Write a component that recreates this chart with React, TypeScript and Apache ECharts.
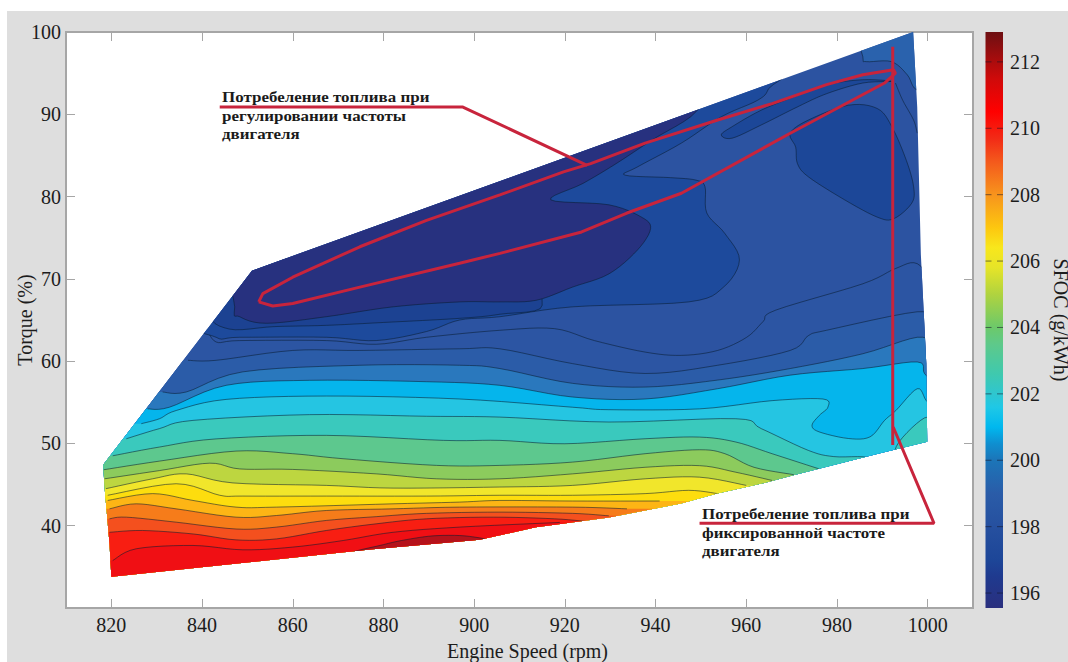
import React, { useEffect, useRef } from "react";
import * as echarts from "echarts";

type P = [number, number];

const xTicks = [820, 840, 860, 880, 900, 920, 940, 960, 980, 1000];
const yTicks = [40, 50, 60, 70, 80, 90, 100];
const barTicks = [196, 198, 200, 202, 204, 206, 208, 210, 212];
const barMin = 195.55;
const barMax = 212.9;
const barStops: [number, string][] = [
  [195.55, "#2a2f7e"], [196.5, "#1f3a8f"], [197, "#1d4698"], [198, "#26509f"], [199, "#2a5ca8"],
  [200, "#1c75b8"], [200.5, "#0f8fd0"], [201, "#00b8ef"], [201.6, "#1fc8e6"], [202, "#2fc6cf"],
  [202.6, "#3fc9ae"], [203.5, "#5ec98a"], [204, "#6cc96a"], [205, "#b0d33f"], [205.8, "#e6e428"],
  [206.4, "#f8e71c"], [207, "#fdc70f"], [208, "#f7941d"], [209, "#f4591c"], [209.7, "#f22a16"],
  [210.5, "#ff0000"], [211.5, "#cf0a0a"], [212.9, "#6d0f12"],
];

const hull: P[] = [
  [818.2, 47.4], [851, 71], [996.8, 100], [997.7, 90.9], [998.5, 73], [999.7, 59.7], [999.9, 50.2], [989.5, 48.8], [970.8, 46.2],
  [964.8, 45.3], [953.6, 43.9], [945.6, 42.7], [929.7, 41], [913.6, 39.8], [901.2, 38.3], [877, 37.1],
  [820, 33.8], [819.6, 37.8], [818.5, 44.7],
];

const L16: P[] = [[841, 64], [843.1, 62.33], [848.3, 62.5], [867.4, 62.5], [878.4, 62.05], [889.5, 62.9], [905.67, 63.75], [917.7, 63.95], [926.5, 62.5], [937.7, 61.1], [945.7, 60.7], [953.7, 61.3], [960.1, 62.9], [963.7, 64.8], [966.5, 66.2], [985.7, 69.4], [992.9, 71.25], [997.7, 71.85], [1002, 69]];
const L15: P[] = [[836.9, 60.1], [843.1, 60.1], [860, 61.3], [874.8, 61.3], [896.8, 61.5], [905.67, 61.5], [921.7, 59.7], [937.7, 58.5], [953.7, 59.5], [969.7, 61.3], [973.7, 63.1], [977.7, 63.75], [997.7, 66], [1002, 65]];
const L14: P[] = [[831.3, 56.25], [836.5, 56.25], [849, 58.7], [874.8, 59.5], [896.8, 59.5], [905.67, 59.1], [921.7, 57.3], [937.7, 56.85], [953.7, 57.7], [969.7, 59.1], [985.7, 60.9], [997.7, 62.9], [1002, 62]];
const L13: P[] = [[828, 54.2], [832.8, 54.4], [845.3, 57.06], [863.7, 57.67], [889.5, 57.5], [905.67, 57.06], [921.7, 55.64], [937.7, 55.4], [953.7, 56.65], [969.7, 58.3], [985.7, 59.1], [997.7, 59.9], [999.3, 58.5], [1002, 57]];
const L12: P[] = [[826.6, 52.4], [830.6, 53], [834.3, 54], [845.3, 55.35], [867.4, 55.76], [896.8, 55.4], [921.7, 54.4], [929.7, 54.1], [949.7, 54.2], [965.7, 55.2], [976.9, 55.4], [978, 54.4], [976.1, 53.4], [974.5, 52.2], [976.1, 51.4], [982.5, 50.6], [987.3, 50.8], [990.5, 52.8], [993, 54], [997.7, 56.65], [999.7, 55.2], [1002, 54]];
const L11: P[] = [[823.3, 50.57], [830.6, 51.8], [838, 52.8], [863.7, 53.5], [889.5, 53.3], [905.67, 53.2], [929.7, 52.6], [957.7, 53], [963.3, 51.8], [973.7, 49.15], [979.3, 48.4], [986.9, 48.3], [991, 47], [993.7, 50.2], [999.3, 53.1], [1002, 52.5]];
const L10: P[] = [[820.3, 48.5], [830.6, 49.56], [843.1, 50.55], [867.4, 50.98], [893.2, 50.37], [905.67, 50.37], [920, 49.96], [937.7, 50.57], [949.7, 50.77], [957.7, 50.17], [965.7, 48.75], [976.1, 46.9]];
const L9: P[] = [[818.3, 46.8], [830.6, 47.85], [847.5, 49.07], [860, 48.75], [871.1, 48.14], [891.7, 47.33], [905.67, 47.33], [921.7, 47.73], [937.7, 48.75], [949.7, 49.23], [955.3, 48.75], [961.7, 47.1], [970.5, 46.2]];
const L8: P[] = [[818.5, 45.7], [830.6, 46.7], [841.7, 47.6], [848.3, 46.9], [860, 46.84], [878.4, 46.3], [891.7, 45.7], [905.67, 45.7], [921.7, 46.3], [937.7, 47.1], [949.7, 47.3], [957.7, 46.5], [965.7, 45.5]];
const L7: P[] = [[818.8, 44.5], [829.1, 45.7], [836.5, 46.3], [846.8, 45.2], [867.4, 44.9], [882.1, 44.57], [905.67, 44.7], [921.7, 44.9], [937.7, 45.7], [949.7, 45.9], [960, 44.9]];
const L6: P[] = [[819.2, 43.7], [834.3, 45.1], [843.9, 43.7], [849, 43.6], [867.4, 43.6], [889.5, 43.6], [905.67, 43.7], [921.7, 43.7], [937.7, 43.9], [947.3, 44.3], [953.7, 43.9]];
const L5: P[] = [[819.2, 43.07], [829.1, 43.9], [838, 43.07], [847.5, 42.26], [856.4, 42.26], [882.1, 42.66], [896.8, 42.87], [905.67, 43.07], [921.7, 43], [940.9, 43]];
const L4: P[] = [[819.6, 42.05], [825.5, 42.66], [834.3, 42.05], [847.5, 41.04], [856.4, 41.24], [867.4, 41.85], [882.1, 42.05], [896.8, 42.26], [921.7, 42.26], [933.7, 42.05]];
const L3: P[] = [[819.6, 40.84], [823.3, 41.04], [834.3, 40.43], [847.5, 39.6], [856.4, 39.83], [867.4, 40.64], [878.4, 41.1], [889.5, 41.5], [905.67, 41.65], [921.7, 41.5], [929.7, 41.2]];
const L2: P[] = [[819.6, 39.2], [826.9, 39.42], [838, 39], [847.5, 38.28], [856.4, 38.4], [867.4, 39.42], [878.4, 40.23], [889.5, 40.84], [904.2, 41.04], [917.7, 40.84], [925, 40.5]];
const L1: P[] = [[820.3, 35.77], [825.5, 37.2], [838, 37.6], [849, 37.07], [860, 37.4], [871.1, 38.2], [882.1, 39.2], [896.8, 39.83], [918.9, 40.4]];

const darkRed: P[] = [[873, 36.5], [880, 37.7], [886, 38.4], [892, 38.8], [899, 38.7], [903, 37.9], [890, 36]];
const blobMid: P[] = [[842, 66], [846, 63.9], [856, 64.2], [867.4, 64.35], [880, 64.7], [896.8, 65.2], [905.67, 65.7], [915, 66.8], [905, 72], [850, 72]];
const blob2: P[] = [[838, 66], [843.1, 62.9], [848.3, 62.9], [867.4, 62.9], [878.4, 62.5], [889.5, 63.6], [896.8, 65], [905.67, 65.4], [921.7, 66.6], [947.3, 67.2], [955, 69], [958.5, 72.3], [955.3, 75.5], [951.3, 78], [950.9, 81.2], [948.9, 82], [943.3, 82.3], [933.3, 82.6], [936, 83.6], [945.7, 86.5], [954.5, 89.7], [962.5, 91.7], [964.9, 93.1], [966, 96], [900, 90], [850, 80]];
const blob1: P[] = [[847.2, 66.6], [848.3, 65.4], [854.2, 64.6], [867.4, 65.4], [882.1, 66.6], [896.8, 67.2], [905.67, 67.2], [913.7, 67.4], [921.7, 69], [929.7, 70.6], [936, 73.5], [938.9, 76.1], [936.9, 77.5], [929.7, 79], [916.9, 79.6], [924, 81.6], [931.3, 84], [939.3, 86.9], [948.9, 90.3], [950, 94], [900, 88], [850, 76]];
const blobRight: P[] = [[969.7, 87.7], [973.7, 89.3], [982.5, 91.1], [988.9, 90.7], [992.1, 88.5], [995.3, 84.4], [996.9, 81.2], [996.5, 79.2], [992.5, 77.3], [988.9, 77.5], [981.7, 79.6], [973.7, 82.4], [971.3, 84], [970.9, 86]];
const sliver: P[] = [[954.5, 87.5], [956.9, 87.1], [963.3, 88.7], [971.3, 90.9], [977.7, 92.5], [985.7, 93.8], [992, 94], [985.7, 94.2], [977.7, 93.6], [971.3, 92.3], [963.3, 90.5], [956.9, 88.5]];
const corner: P[] = [[985.7, 97], [986.5, 96.4], [992, 96.4], [995.5, 94.8], [997.5, 93], [1002, 93], [1002, 102], [985, 102]];
const ringLine: P[] = [[992.9, 93.8], [994.5, 91.7], [996.9, 89.3], [997.7, 87.7]];

const loopLine: P[] = [[852.5, 67.2], [853.4, 68.2], [860, 70.2], [874.8, 73.9], [889.5, 77.1], [905.67, 80.2], [919.7, 83], [925.7, 84], [937.7, 86.5], [953.7, 89.3], [965.7, 91.3], [977.7, 93.6], [985.7, 94.8], [992.5, 95.4], [992.9, 95], [990.5, 93.8], [969.7, 87.7], [945.7, 80.4], [933.7, 78], [923.7, 75.7], [905.7, 73.1], [896.8, 71.9], [874.8, 69], [860, 67], [855.6, 66.7], [852.5, 67.2]];
const fixedLine: P[] = [[992.3, 98.2], [992.3, 49.8]];
const leader1: P[] = [[843.9, 90.9], [897.4, 90.9], [924.9, 83.8]];
const leader2: P[] = [[949.7, 40.3], [1001.4, 40.3], [992.4, 52]];

const note1 = "Потребеление топлива при\nрегулировании частоты\nдвигателя";
const note2 = "Потребеление топлива при\nфиксированной частоте\nдвигателя";

type Band = { pts: P[]; fill: string; kind: "below" | "blob" | "stroke" };
const bands: Band[] = [
  { pts: L16, fill: "#2c55a3", kind: "below" },
  { pts: L15, fill: "#2b5ca8", kind: "below" },
  { pts: L14, fill: "#2a78bd", kind: "below" },
  { pts: L13, fill: "#05b5ec", kind: "below" },
  { pts: L12, fill: "#25c5e2", kind: "below" },
  { pts: L11, fill: "#3ac9bd", kind: "below" },
  { pts: L10, fill: "#5dc88e", kind: "below" },
  { pts: L9, fill: "#8ccb5d", kind: "below" },
  { pts: L8, fill: "#bdd640", kind: "below" },
  { pts: L7, fill: "#f1e62b", kind: "below" },
  { pts: L6, fill: "#fddd0e", kind: "below" },
  { pts: L5, fill: "#fdb515", kind: "below" },
  { pts: L4, fill: "#f67c1a", kind: "below" },
  { pts: L3, fill: "#f4501e", kind: "below" },
  { pts: L2, fill: "#f81e12", kind: "below" },
  { pts: L1, fill: "#f00f14", kind: "below" },
  { pts: darkRed, fill: "#b5121b", kind: "blob" },
  { pts: corner, fill: "#2a62ad", kind: "blob" },
  { pts: blob2, fill: "#1d4a9c", kind: "blob" },
  { pts: blobMid, fill: "#1c4292", kind: "blob" },
  { pts: blob1, fill: "#27317f", kind: "blob" },
  { pts: blobRight, fill: "#1c4798", kind: "blob" },
  { pts: sliver, fill: "#1c4798", kind: "blob" },
  { pts: ringLine, fill: "none", kind: "stroke" },
];

const contourStroke = "rgba(10,30,50,0.55)";
const red = "#c8243c";
const frame = "#a6a6a6";
const serif = "'Liberation Serif', serif";

function spline(pts: number[][], closed: boolean): number[][] {
  const out: number[][] = [];
  const n = pts.length;
  const at = (i: number) => (closed ? pts[(i + n) % n] : pts[Math.max(0, Math.min(n - 1, i))]);
  const segs = closed ? n : n - 1;
  for (let i = 0; i < segs; i++) {
    const [p0, p1, p2, p3] = [at(i - 1), at(i), at(i + 1), at(i + 2)];
    for (let k = 0; k < 6; k++) {
      const t = k / 6;
      const t2 = t * t;
      const t3 = t2 * t;
      out.push([0, 1].map((d) =>
        0.5 * (2 * p1[d] + (p2[d] - p0[d]) * t + (2 * p0[d] - 5 * p1[d] + 4 * p2[d] - p3[d]) * t2 + (3 * p1[d] - p0[d] - 3 * p2[d] + p3[d]) * t3)
      ));
    }
  }
  if (!closed) out.push(pts[n - 1]);
  return out;
}

function renderBand(params: any, api: any) {
  const band = bands[params.dataIndex];
  const clip = { type: "polygon", shape: { points: hull.map((p) => api.coord(p)) } };
  const px = band.pts.map((p) => api.coord(p));
  if (band.kind === "blob") {
    return {
      type: "polygon",
      shape: { points: spline(px, true) },
      style: { fill: band.fill, stroke: contourStroke, lineWidth: 1 },
      clipPath: clip,
    };
  }
  const curve = spline(px, false);
  const line = { type: "polyline", shape: { points: curve }, style: { fill: "none", stroke: contourStroke, lineWidth: 1 }, clipPath: clip };
  if (band.kind === "stroke") return line;
  const first = band.pts[0];
  const last = band.pts[band.pts.length - 1];
  const fillPts = [
    api.coord([810, first[1]]),
    ...curve,
    api.coord([1010, last[1]]),
    api.coord([1010, 30]),
    api.coord([810, 30]),
  ];
  return {
    type: "group",
    children: [
      { type: "polygon", shape: { points: fillPts }, style: { fill: band.fill }, clipPath: clip },
      line,
    ],
  };
}

function renderHull(_params: any, api: any) {
  return { type: "polygon", shape: { points: hull.map((p) => api.coord(p)) }, style: { fill: "#2c53a1" } };
}

function renderBar(_params: any, api: any) {
  const a = api.coord([0, barMax]);
  const b = api.coord([1, barMin]);
  return {
    type: "rect",
    shape: { x: a[0], y: a[1], width: b[0] - a[0], height: b[1] - a[1] },
    style: {
      fill: {
        type: "linear", x: 0, y: 1, x2: 0, y2: 0,
        colorStops: barStops.map(([v, color]) => ({ offset: (v - barMin) / (barMax - barMin), color })),
      },
    },
  };
}

function renderBarTick(_params: any, api: any) {
  const v = api.value(1);
  const y = api.coord([0, v])[1];
  const l = api.coord([0, v])[0];
  const r = api.coord([1, v])[0];
  const style = { stroke: "rgba(20,20,40,0.55)", lineWidth: 1 };
  return {
    type: "group",
    children: [
      { type: "line", shape: { x1: l, y1: y, x2: l + 6, y2: y }, style },
      { type: "line", shape: { x1: r - 6, y1: y, x2: r, y2: y }, style },
    ],
  };
}

const redSeries = (data: P[]) => ({
  type: "line", data, xAxisIndex: 0, yAxisIndex: 0, symbol: "none", z: 6, clip: false,
  lineStyle: { color: red, width: 3 }, silent: true,
});

const plain = (v: number) => String(v);

export default function App() {
  const ref = useRef<HTMLDivElement>(null);
  useEffect(() => {
    const chart = echarts.init(ref.current!, undefined, { renderer: "svg" });
    const tickStyle = { show: true, inside: true, length: 9, lineStyle: { color: frame, width: 1 } };
    chart.setOption({
      animation: false,
      backgroundColor: "#ffffff",
      grid: [
        { left: 66, top: 32, width: 907, height: 576, show: true, backgroundColor: "#ffffff", borderColor: frame, borderWidth: 2, containLabel: false, outerBoundsMode: "none" },
        { left: 985.5, top: 32, width: 17.5, height: 576, containLabel: false, outerBoundsMode: "none" },
      ],
      xAxis: [
        {
          type: "value", gridIndex: 0, position: "bottom", min: 810, max: 1010, splitLine: { show: false }, axisLine: { show: false },
          axisTick: { ...tickStyle, customValues: xTicks },
          axisLabel: { customValues: xTicks, formatter: plain, margin: 7, color: "#1c1c1c", fontFamily: serif, fontSize: 20 },
          name: "Engine Speed (rpm)", nameLocation: "middle", nameGap: 33, nameMoveOverlap: false,
          nameTextStyle: { color: "#1c1c1c", fontFamily: serif, fontSize: 20, padding: [0, 0, 0, 16] },
        },
        { type: "value", gridIndex: 0, position: "top", min: 810, max: 1010, splitLine: { show: false }, axisLine: { show: false }, axisLabel: { show: false }, axisTick: { ...tickStyle, customValues: xTicks } },
        { type: "value", gridIndex: 1, min: 0, max: 1, show: false },
      ],
      yAxis: [
        {
          type: "value", gridIndex: 0, position: "left", min: 30, max: 100, splitLine: { show: false }, axisLine: { show: false },
          axisTick: { ...tickStyle, customValues: yTicks },
          axisLabel: { customValues: yTicks, formatter: plain, margin: 5, color: "#1c1c1c", fontFamily: serif, fontSize: 20 },
          name: "Torque (%)", nameLocation: "middle", nameGap: 31, nameRotate: 90, nameMoveOverlap: false,
          nameTextStyle: { color: "#1c1c1c", fontFamily: serif, fontSize: 20 },
        },
        { type: "value", gridIndex: 0, position: "right", min: 30, max: 100, splitLine: { show: false }, axisLine: { show: false }, axisLabel: { show: false }, axisTick: { ...tickStyle, customValues: yTicks } },
        {
          type: "value", gridIndex: 1, position: "right", min: barMin, max: barMax, splitLine: { show: false }, axisLine: { show: false },
          axisTick: { show: false },
          axisLabel: { customValues: barTicks, formatter: plain, margin: 7, color: "#1c1c1c", fontFamily: serif, fontSize: 20 },
          name: "SFOC (g/kWh)", nameLocation: "middle", nameGap: 48, nameRotate: -90, nameMoveOverlap: false,
          nameTextStyle: { color: "#1c1c1c", fontFamily: serif, fontSize: 20 },
        },
      ],
      graphic: [
        { type: "rect", z: -10, silent: true, shape: { x: 0, y: 0, width: 1068, height: 662 }, style: { fill: "#ffffff" } },
        { type: "rect", z: -9, silent: true, shape: { x: 7, y: 11, width: 1061, height: 651 }, style: { fill: "#dedede" } },
        { type: "text", z: 7, x: 222, y: 88, scaleX: 1.13, style: { text: note1, fill: "#1a1a1a", font: `bold 15px ${serif}`, lineHeight: 18.3 } },
        { type: "text", z: 7, x: 702, y: 505, scaleX: 1.13, style: { text: note2, fill: "#1a1a1a", font: `bold 15px ${serif}`, lineHeight: 18.3 } },
      ],
      series: [
        { type: "custom", xAxisIndex: 0, yAxisIndex: 0, z: 2, silent: true, clip: false, renderItem: renderHull, data: [hull[0]] },
        { type: "custom", xAxisIndex: 0, yAxisIndex: 0, z: 3, silent: true, clip: false, renderItem: renderBand, data: bands.map((b) => b.pts[0]) },
        redSeries(loopLine), redSeries(fixedLine), redSeries(leader1), redSeries(leader2),
        { type: "custom", xAxisIndex: 2, yAxisIndex: 2, z: 2, silent: true, clip: false, renderItem: renderBar, data: [[0, barMin]] },
        { type: "custom", xAxisIndex: 2, yAxisIndex: 2, z: 3, silent: true, clip: false, renderItem: renderBarTick, data: barTicks.map((v) => [0, v]) },
      ],
    });
    return () => chart.dispose();
  }, []);
  return <div ref={ref} style={{ position: "fixed", left: 0, top: 0, width: 1068, height: 662 }} />;
}
